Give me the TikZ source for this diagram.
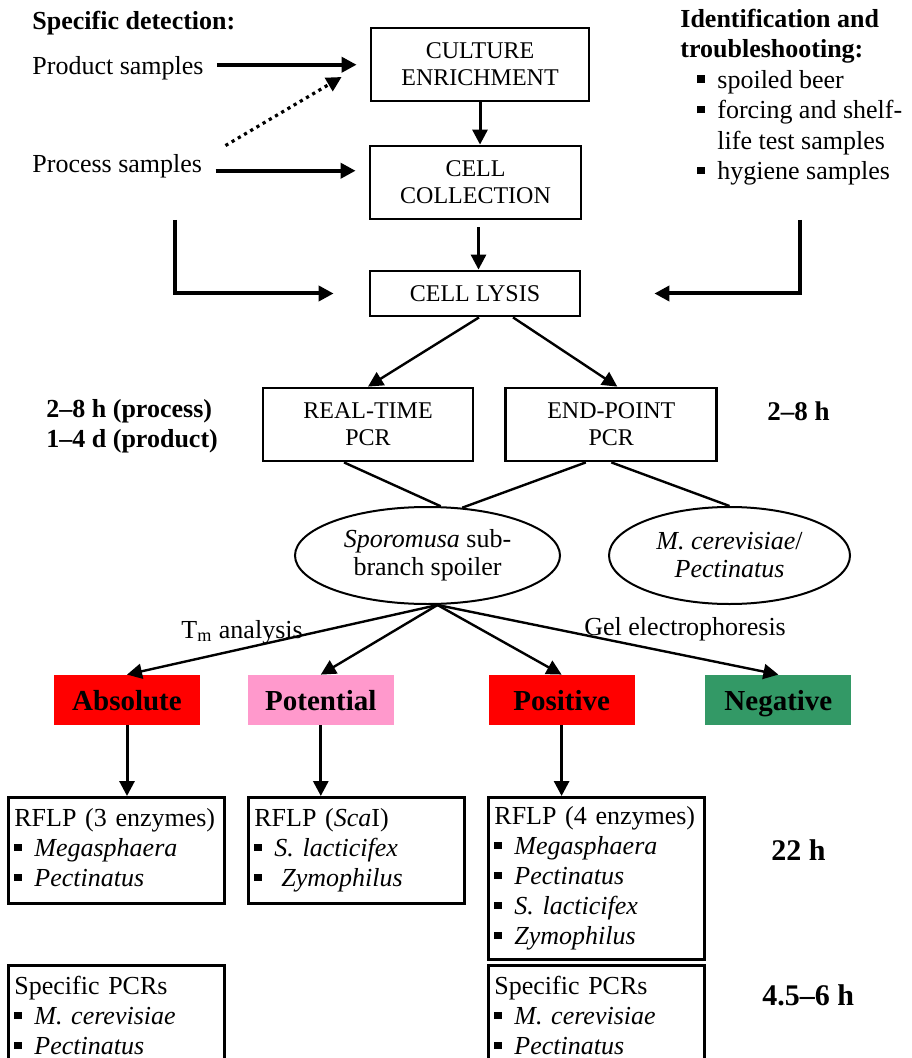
\documentclass[tikz,border=0pt]{standalone}
\usepackage{fontspec}
\setmainfont{Liberation Serif}
\usetikzlibrary{positioning,shapes.geometric,arrows.meta}

\definecolor{redbox}{HTML}{FF0000}
\definecolor{pinkbox}{HTML}{FF99CC}
\definecolor{greenbox}{HTML}{339966}

\newcommand{\sqbul}{\raisebox{0.2em}{\rule{3.8pt}{3.8pt}}\hspace{6.2pt}}

\begin{document}
\begin{tikzpicture}[x=0.5pt,y=-0.5pt,
    every node/.style={font=\fontsize{13}{15}\selectfont},
    txt/.style={inner sep=0pt},
    hd/.style={inner sep=0pt,font=\fontsize{13}{15.2}\selectfont\bfseries},
    stepbox/.style={draw,line width=1.4pt,align=center,inner sep=0pt,font=\fontsize{12}{13.5}\selectfont},
    oval/.style={draw,ellipse,line width=1pt,align=center,inner sep=0pt,minimum height=48.5pt,font=\fontsize{13}{14}\selectfont},
    result/.style={minimum width=73pt,minimum height=25pt,inner sep=0pt,text height=10.5pt,text depth=0pt,
      font=\fontsize{14.5}{16}\selectfont\bfseries},
    listbox/.style={draw,line width=1.4pt,anchor=north west,align=left,text width=102pt,inner xsep=3pt,inner ysep=4pt,
      execute at begin node=\strut,execute at end node=\strut},
    arr/.style={line width=1.5pt,-{Triangle[length=7.5pt,width=7.5pt]}},
    harr/.style={arr,line width=2pt},
    darr/.style={arr,line width=1.2pt},
    timelbl/.style={inner sep=0pt,anchor=base west,font=\fontsize{15}{17}\selectfont\bfseries}]
  \useasboundingbox (0,0) rectangle (911,1058);

  \node[hd,anchor=base west] (spec) at (32,30) {Specific detection:};
  \node[txt,anchor=base west] (prod) at (32,75) {Product samples};
  \node[txt,anchor=base west] (proc) at (32,173) {Process samples};
  \node[txt,anchor=north west,align=left,font=\fontsize{13}{15.2}\selectfont,execute at begin node=\strut] (ident) at (680,8.7)
    {\textbf{Identification and}\\
     \textbf{troubleshooting:}\\
     \hspace*{8.5pt}\sqbul spoiled beer\\
     \hspace*{8.5pt}\sqbul forcing and shelf-\\
     \hspace*{18.5pt}life test samples\\
     \hspace*{8.5pt}\sqbul hygiene samples};

  \node[stepbox,minimum width=109pt,minimum height=36.5pt] (cult) at (480,64.5) {CULTURE\\ENRICHMENT};
  \node[stepbox,minimum width=105.5pt,minimum height=36.5pt] (coll) at (475.5,182.5) {CELL\\COLLECTION};
  \node[stepbox,minimum width=105pt,minimum height=22.5pt] (lys) at (475,293.5) {CELL LYSIS};
  \node[stepbox,minimum width=105pt,minimum height=36.5pt] (rt) at (368,424.5) {REAL-TIME\\PCR};
  \node[stepbox,minimum width=105.5pt,minimum height=36.5pt,right=15pt of rt] (ep) {END-POINT\\PCR};

  \node[hd,anchor=north west,align=left,execute at begin node=\strut] (trt) at (46,399) {2--8 h (process)\\1--4 d (product)};
  \node[timelbl,font=\fontsize{13.5}{15}\selectfont\bfseries] (tep) at (767,420) {2--8 h};

  \node[oval,minimum width=132.5pt] (spo) at (427.5,555.5) {\textit{Sporomusa} sub-\\branch spoiler};
  \node[oval,minimum width=120.5pt,right=23.5pt of spo] (mc) {\textit{M. cerevisiae}/\\\textit{Pectinatus}};

  \node[txt,anchor=base west] (tm) at (181,638) {T\textsubscript{m} analysis};
  \node[txt,anchor=base west] (gel) at (584,635) {Gel electrophoresis};

  \node[result,fill=redbox] (abs) at (127,700) {Absolute};
  \node[result,fill=pinkbox,right=23.5pt of abs] (pot) {Potential};
  \node[result,fill=redbox,right=47pt of pot] (pos) {Positive};
  \node[result,fill=greenbox,right=35pt of pos] (neg) {Negative};

  \node[listbox] (rflpA) at (7,796) {RFLP (3 enzymes)\\
    \sqbul\textit{Megasphaera}\\
    \sqbul\textit{Pectinatus}};
  \node[listbox] (rflpB) at (247,796) {RFLP (\textit{Sca}I)\\
    \sqbul\textit{S. lacticifex}\\
    \sqbul\hspace{3.5pt}\textit{Zymophilus}};
  \node[listbox,inner ysep=3pt] (rflpC) at (487,796) {RFLP (4 enzymes)\\
    \sqbul\textit{Megasphaera}\\
    \sqbul\textit{Pectinatus}\\
    \sqbul\textit{S. lacticifex}\\
    \sqbul\textit{Zymophilus}};
  \node[listbox] (pcrA) at (7,964) {Specific PCRs\\
    \sqbul\textit{M. cerevisiae}\\
    \sqbul\textit{Pectinatus}};
  \node[listbox] (pcrC) at (487,964) {Specific PCRs\\
    \sqbul\textit{M. cerevisiae}\\
    \sqbul\textit{Pectinatus}};

  \node[timelbl] (trflp) at (771,860) {22 h};
  \node[timelbl] (tpcr) at (762,1005) {4.5--6 h};

  \coordinate (lbend) at (175,220);
  \coordinate (rbend) at (800,220);

  \draw[harr,shorten >=6.5pt] ([xshift=6.5pt,yshift=2pt]prod.east) -- ([yshift=2pt]prod.east -| cult.west);
  \draw[harr,shorten >=6.5pt] ([xshift=6.5pt,yshift=-2pt]proc.east) -- ([yshift=-2pt]proc.east -| coll.west);
  \draw[arr,line width=1.6pt,dash pattern=on 1.6pt off 2pt] ([xshift=11.5pt,yshift=4.5pt]proc.north east) -- ([xshift=-14pt,yshift=-6.25pt]cult.west);
  \draw[arr] (cult.south) -- (cult.south |- coll.north);
  \draw[arr,shorten <=3.5pt] ([xshift=1.5pt]coll.south) -- ([xshift=1.5pt]coll.south |- lys.north);
  \draw[harr] (lbend) |- ([xshift=-17.5pt]lys.west);
  \draw[harr] (rbend) |- ([xshift=36.5pt]lys.east);

  \draw[darr] ([xshift=2pt]lys.south) -- (rt.north);
  \draw[darr] ([xshift=19pt]lys.south) -- ([xshift=3pt]ep.north);
  \draw[line width=1.2pt] ([xshift=-12pt]rt.south) -- (spo.75);
  \draw[line width=1.2pt] ([xshift=-12.75pt]ep.south) -- (spo.54);
  \draw[line width=1.2pt] (ep.south) -- (mc.north);

  \draw[darr] ([xshift=5pt]spo.south) -- (abs.north);
  \draw[darr] ([xshift=5pt]spo.south) -- (pot.north);
  \draw[darr] ([xshift=5pt]spo.south) -- (pos.north);
  \draw[darr] ([xshift=5pt]spo.south) -- (neg.north);

  \draw[arr] (abs.south) -- (abs.south |- rflpA.north);
  \draw[arr] (pot.south) -- (pot.south |- rflpB.north);
  \draw[arr] (pos.south) -- (pos.south |- rflpC.north);
\end{tikzpicture}
\end{document}
